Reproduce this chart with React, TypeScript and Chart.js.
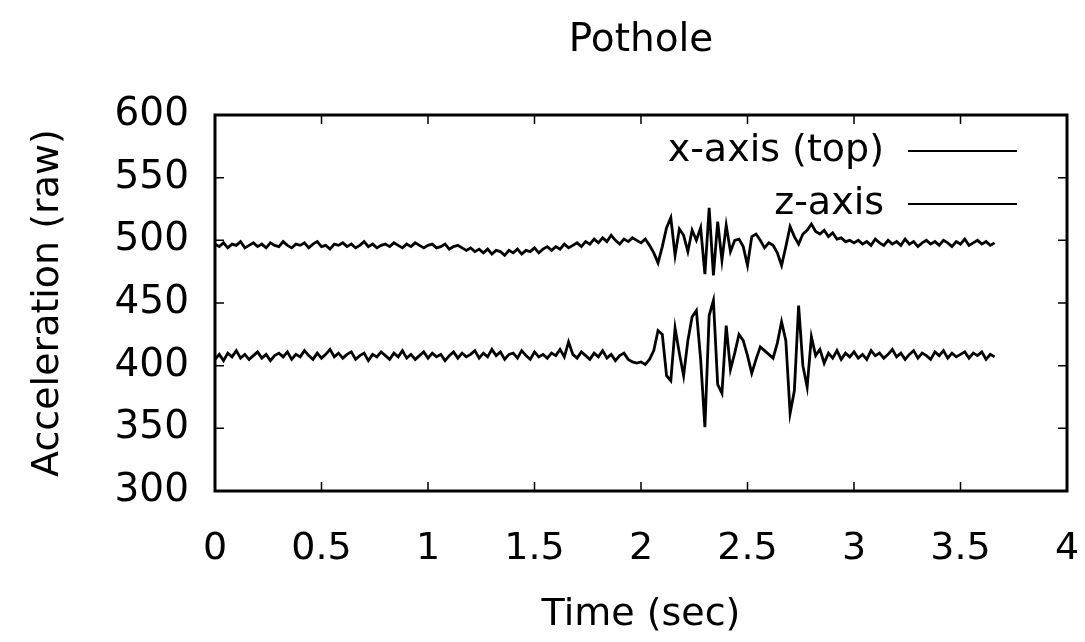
import React, { useEffect, useRef } from "react";
import { Chart, registerables } from "chart.js";

Chart.register(...registerables);

const TITLE = "Pothole";
const X_TITLE = "Time (sec)";
const Y_TITLE = "Acceleration (raw)";
const SERIES_NAMES = ["x-axis (top)", "z-axis"];
const SAMPLE_STEP = 0.02;
const X_TICKS = [0, 0.5, 1, 1.5, 2, 2.5, 3, 3.5, 4];
const Y_TICKS = [300, 350, 400, 450, 500, 550, 600];

// x-axis (top) raw acceleration, one value every 0.02 s
const xAxisValues = [
  497, 495, 498, 494, 497, 496, 499, 494, 496, 498,
  495, 497, 494, 498, 496, 495, 499, 496, 494, 497,
  496, 498, 494, 497, 499, 495, 496, 493, 497, 496,
  498, 495, 497, 494, 496, 499, 495, 497, 494, 496,
  497, 495, 498, 496, 494, 497, 495, 498, 496, 494,
  496, 497, 494, 495, 497, 493, 495, 496, 494, 492,
  494, 491, 493, 490, 493, 489, 492, 491, 488, 492,
  490, 493, 489, 492, 491, 494, 490, 493, 495, 492,
  495, 493, 497, 494, 496, 498, 495, 499, 497, 501,
  498, 502, 499, 504, 500, 497, 501, 499, 502, 500,
  498, 501, 496, 490, 482, 495, 510, 518, 488, 509,
  504, 491, 508, 500, 510, 473, 526, 472, 515, 484,
  512, 491, 500, 501, 495, 480, 503, 505, 500, 494,
  498, 496, 490, 480, 495, 511, 503, 497, 505, 508,
  513, 507, 505, 508, 503, 506, 501, 502, 499, 500,
  498, 500, 497, 499, 496, 501, 498, 496, 500, 497,
  499, 496, 501, 497, 499, 495, 498, 500, 497, 499,
  496, 500, 498, 495, 499, 497, 501, 496, 498, 500,
  497, 499, 496, 498,
];

// z-axis raw acceleration, one value every 0.02 s
const zAxisValues = [
  405, 409, 404, 410, 407, 412, 406, 409, 405, 408,
  411, 406, 409, 404, 408, 410, 407, 411, 405, 409,
  407, 412, 408, 405, 410, 406, 409, 413, 407, 410,
  406, 409, 411, 405, 408, 410, 404, 409, 407, 411,
  408, 405, 410, 407, 412, 406, 409, 405, 408, 411,
  406, 410, 407, 409, 404, 408, 411, 406, 410, 407,
  409, 412, 406, 410, 407, 413, 408, 411, 405, 409,
  410, 406, 412, 408, 405, 411, 407, 409, 406, 410,
  408, 413, 407, 419, 409, 406, 411, 408, 405, 410,
  407, 412, 406, 409, 404, 408, 410, 405, 403, 402,
  403, 401, 405, 412, 428, 425, 392, 388, 430, 410,
  392, 420, 439, 444, 405, 351, 440, 452, 385, 378,
  432, 397, 410, 425, 420, 408, 394, 405, 415, 412,
  409, 406, 418, 435, 420, 362, 380, 448, 400, 383,
  423, 408, 413, 402, 410, 406, 412, 405, 410, 407,
  411, 406, 409, 405, 412, 408, 410, 406, 409, 413,
  407, 410, 405, 409, 412, 406, 410, 408, 405, 411,
  408, 412, 406, 410, 407, 409, 411, 406, 410, 408,
  411, 405, 409, 407,
];

const FONT = "'DejaVu Sans', sans-serif";

const framePlugin = {
  id: "gnuplotFrame",
  afterDraw(chart: any) {
    const { ctx, chartArea } = chart;
    const { left, right, top, bottom } = chartArea;
    const xs = chart.scales.x;
    const ys = chart.scales.y;
    ctx.save();
    ctx.strokeStyle = "#000";
    ctx.lineWidth = 1.5;
    const len = 9;
    ctx.beginPath();
    X_TICKS.forEach((v) => {
      const px = xs.getPixelForValue(v);
      ctx.moveTo(px, bottom);
      ctx.lineTo(px, bottom - len);
      ctx.moveTo(px, top);
      ctx.lineTo(px, top + len);
    });
    Y_TICKS.forEach((v) => {
      const py = ys.getPixelForValue(v);
      ctx.moveTo(left, py);
      ctx.lineTo(left + len, py);
      ctx.moveTo(right, py);
      ctx.lineTo(right - len, py);
    });
    ctx.stroke();
    ctx.lineWidth = 3;
    ctx.strokeRect(left, top, right - left, bottom - top);

    ctx.fillStyle = "#000";
    ctx.font = `39px ${FONT}`;
    ctx.textAlign = "center";
    ctx.textBaseline = "middle";
    ctx.fillText(TITLE, (left + right) / 2, 41);

    ctx.font = `38px ${FONT}`;
    ctx.textAlign = "right";
    const legendRows = [151, 204];
    SERIES_NAMES.forEach((name, i) => {
      const y = legendRows[i];
      ctx.fillText(name, 884, y);
      ctx.lineWidth = 2;
      ctx.beginPath();
      ctx.moveTo(908, y);
      ctx.lineTo(1017, y);
      ctx.stroke();
    });
    ctx.restore();
  },
};

export default function App() {
  const canvasRef = useRef<HTMLCanvasElement | null>(null);

  useEffect(() => {
    const canvas = canvasRef.current;
    if (!canvas) return;
    const times = xAxisValues.map((_, i) => Number((i * SAMPLE_STEP).toFixed(2)));
    const topData = xAxisValues.map((v, i) => ({ x: times[i], y: v }));
    const zData = zAxisValues.map((v, i) => ({ x: times[i], y: v }));

    const chart = new Chart(canvas, {
      type: "line",
      data: {
        datasets: [
          {
            label: SERIES_NAMES[0],
            data: topData,
            borderColor: "#000",
            borderWidth: 2.8,
            pointRadius: 0,
            tension: 0,
            fill: false,
          },
          {
            label: SERIES_NAMES[1],
            data: zData,
            borderColor: "#000",
            borderWidth: 2.8,
            pointRadius: 0,
            tension: 0,
            fill: false,
          },
        ],
      },
      options: {
        responsive: false,
        animation: false,
        events: [],
        layout: { padding: { top: 115, right: 18, left: 0, bottom: 0 } },
        plugins: {
          legend: { display: false },
          title: { display: false },
          tooltip: { enabled: false },
        },
        scales: {
          x: {
            type: "linear",
            min: 0,
            max: 4,
            afterFit: (s: any) => {
              s.height = 151;
              s.paddingLeft = 0;
              s.paddingRight = 0;
            },
            afterBuildTicks: (s: any) => {
              s.ticks = X_TICKS.map((v) => ({ value: v }));
            },
            ticks: {
              color: "#000",
              font: { family: FONT, size: 38 },
              padding: 35,
              maxRotation: 0,
              autoSkip: false,
              callback: (v: any) => String(v),
            },
            grid: { display: false, drawTicks: false },
            border: { display: false },
            title: {
              display: true,
              text: X_TITLE,
              color: "#000",
              font: { family: FONT, size: 38 },
              padding: { top: 4, bottom: 4 },
            },
          },
          y: {
            type: "linear",
            min: 300,
            max: 600,
            afterFit: (s: any) => {
              s.width = 215;
              s.paddingTop = 0;
              s.paddingBottom = 0;
            },
            afterBuildTicks: (s: any) => {
              s.ticks = Y_TICKS.map((v) => ({ value: v }));
            },
            ticks: {
              color: "#000",
              font: { family: FONT, size: 39 },
              padding: 26,
              autoSkip: false,
              callback: (v: any) => String(v),
            },
            grid: { display: false, drawTicks: false },
            border: { display: false },
            title: {
              display: true,
              text: Y_TITLE,
              color: "#000",
              font: { family: FONT, size: 38 },
              padding: { top: 25, bottom: 25 },
            },
          },
        },
      },
      plugins: [framePlugin],
    });
    return () => chart.destroy();
  }, []);

  return (
    <div style={{ position: "absolute", left: 0, top: 0, width: 1085, height: 642, background: "#fff" }}>
      <canvas ref={canvasRef} width={1085} height={642} />
    </div>
  );
}
